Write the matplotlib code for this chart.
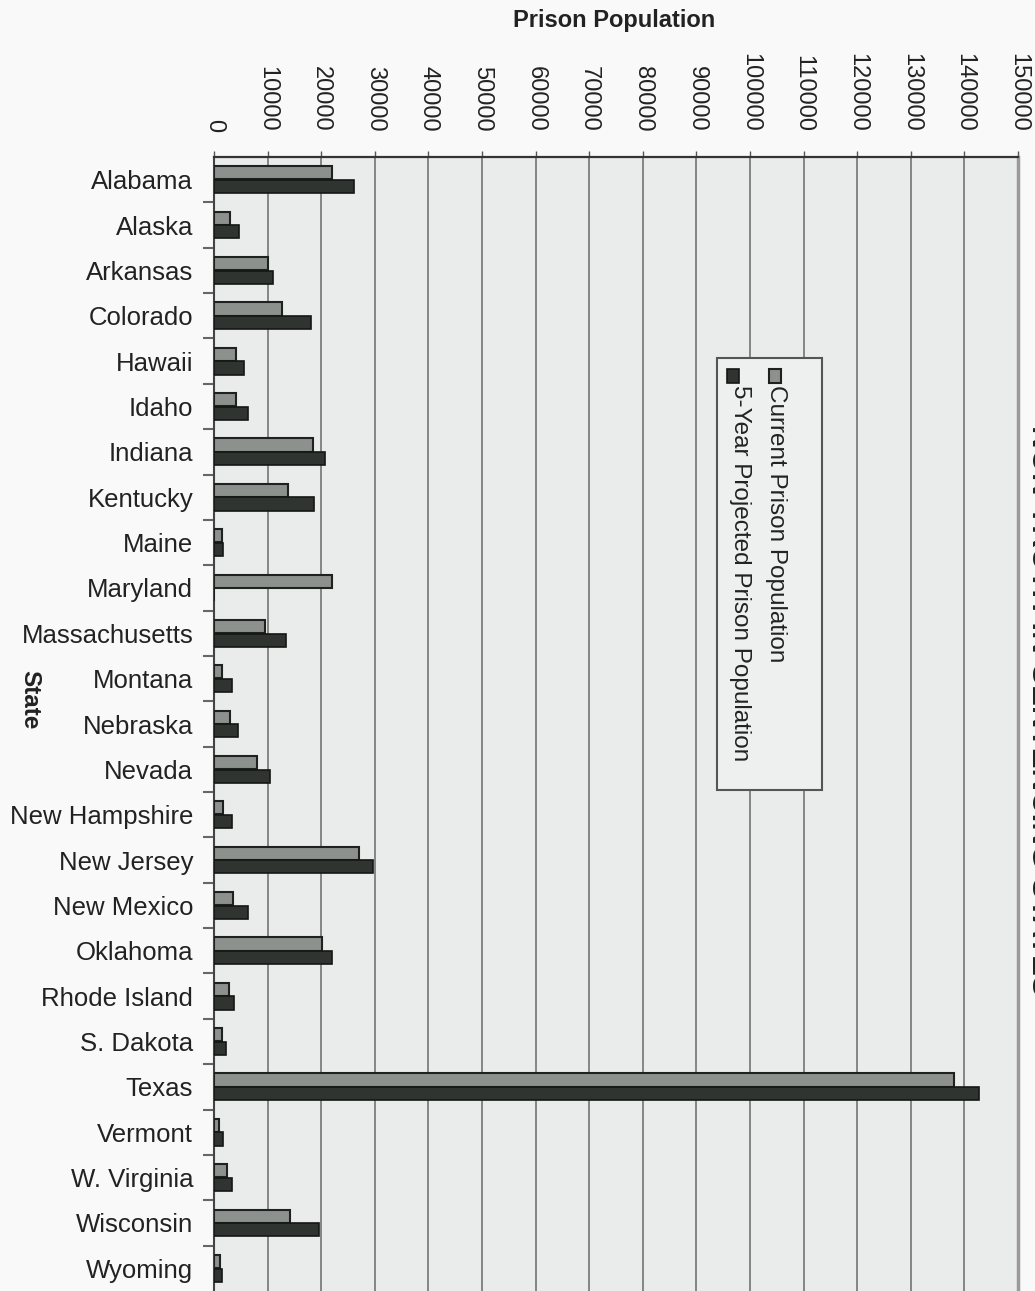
import matplotlib.pyplot as plt
from matplotlib.patches import Rectangle
import numpy as np

plt.rcParams['font.family'] = ['Liberation Sans', 'DejaVu Sans']

# prison populations by state
states = ["Alabama", "Alaska", "Arkansas", "Colorado", "Hawaii", "Idaho",
          "Indiana", "Kentucky", "Maine", "Maryland", "Massachusetts",
          "Montana", "Nebraska", "Nevada", "New Hampshire", "New Jersey",
          "New Mexico", "Oklahoma", "Rhode Island", "S. Dakota", "Texas",
          "Vermont", "W. Virginia", "Wisconsin", "Wyoming"]
current = [22100, 3000, 10100, 12700, 4100, 4100, 18500, 13800, 1400, 22000,
           9500, 1500, 3000, 8000, 1700, 27000, 3600, 20100, 2800, 1500,
           138000, 1000, 2400, 14200, 1200]
projected = [26100, 4600, 11000, 18100, 5600, 6400, 20700, 18700, 1700, 0,
             13400, 3400, 4400, 10400, 3400, 29600, 6300, 22000, 3700, 2200,
             142700, 1600, 3400, 19600, 1500]
xticks = np.arange(0, 150001, 10000)

W, H = 1035, 1291
fig = plt.figure(figsize=(W / 100, H / 100), dpi=100)
fig.patch.set_facecolor('#f9f9f9')

ax = fig.add_axes([214 / W, 0, (1018 - 214) / W, 1 - 157 / H])
ax.set_facecolor('#eaeceb')

y = np.arange(len(states))
ax.barh(y - 0.15, current, height=0.29, color='#8c918d', edgecolor='#1e211f',
        linewidth=1.5, zorder=3, label='Current Prison Population')
ax.barh(y + 0.15, projected, height=0.29, color='#2f3431', edgecolor='#151716',
        linewidth=1.2, zorder=3, label='5-Year Projected Prison Population')

ax.set_xlim(0, 150000)
ax.set_ylim(len(states) - 0.5, -0.5)
ax.xaxis.tick_top()
ax.set_xticks(xticks)
ax.set_xticklabels([str(v) for v in xticks], rotation=-90, fontsize=17,
                   color='#222222')
ax.tick_params(axis='x', length=4, width=1, color='#555555', pad=14)
ax.set_yticks(y)
ax.set_yticklabels(states, fontsize=18.5, color='#222222')
ax.set_yticks(y[:-1] + 0.5, minor=True)
ax.tick_params(axis='y', which='major', length=0, pad=15)
ax.tick_params(axis='y', which='minor', length=8, width=1.5, color='#666666')

ax.grid(axis='x', color='#858585', linewidth=1.4, zorder=1)
ax.set_axisbelow(True)
ax.spines['top'].set_color('#333333')
ax.spines['top'].set_linewidth(1.6)
ax.spines['left'].set_color('#444444')
ax.spines['left'].set_linewidth(1.5)
ax.spines['right'].set_color('#9a9a9a')
ax.spines['right'].set_linewidth(2.5)
ax.spines['bottom'].set_visible(False)

fig.text(614 / W, 1 - 20 / H, "Prison Population", fontsize=17,
         fontweight='bold', ha='center', va='center', color='#222222')
fig.text(30 / W, 1 - 700 / H, "State", fontsize=17.5, fontweight='bold',
         rotation=-90, ha='center', va='center', color='#222222')
# chart title runs down the right edge, partly off the page
fig.text(1040 / W, 1 - 710 / H, "NON-TRUTH-IN-SENTENCING STATES",
         fontsize=22.5, fontweight='bold', rotation=-90, ha='center',
         va='center', color='#222222')

# legend box drawn by hand so its entries can run vertically
fig.patches.append(Rectangle((717 / W, 1 - 790 / H), 105 / W, 432 / H,
                             transform=fig.transFigure, facecolor='#eef0ef',
                             edgecolor='#555555', linewidth=1.5, zorder=5))
fig.patches.append(Rectangle((769 / W, 1 - 383 / H), 12 / W, 14 / H,
                             transform=fig.transFigure, facecolor='#8c918d',
                             edgecolor='#1e211f', linewidth=1.5, zorder=6))
fig.patches.append(Rectangle((727 / W, 1 - 383 / H), 12 / W, 14 / H,
                             transform=fig.transFigure, facecolor='#2f3431',
                             edgecolor='#151716', linewidth=1.2, zorder=6))
fig.text(776 / W, 1 - 385 / H, "Current Prison Population", fontsize=17.5,
         rotation=-90, ha='center', va='top', color='#222222', zorder=7)
fig.text(740 / W, 1 - 385 / H, "5-Year Projected Prison Population",
         fontsize=17.5, rotation=-90, ha='center', va='top', color='#222222',
         zorder=7)

fig.savefig("out.png", dpi=100, facecolor=fig.get_facecolor())
